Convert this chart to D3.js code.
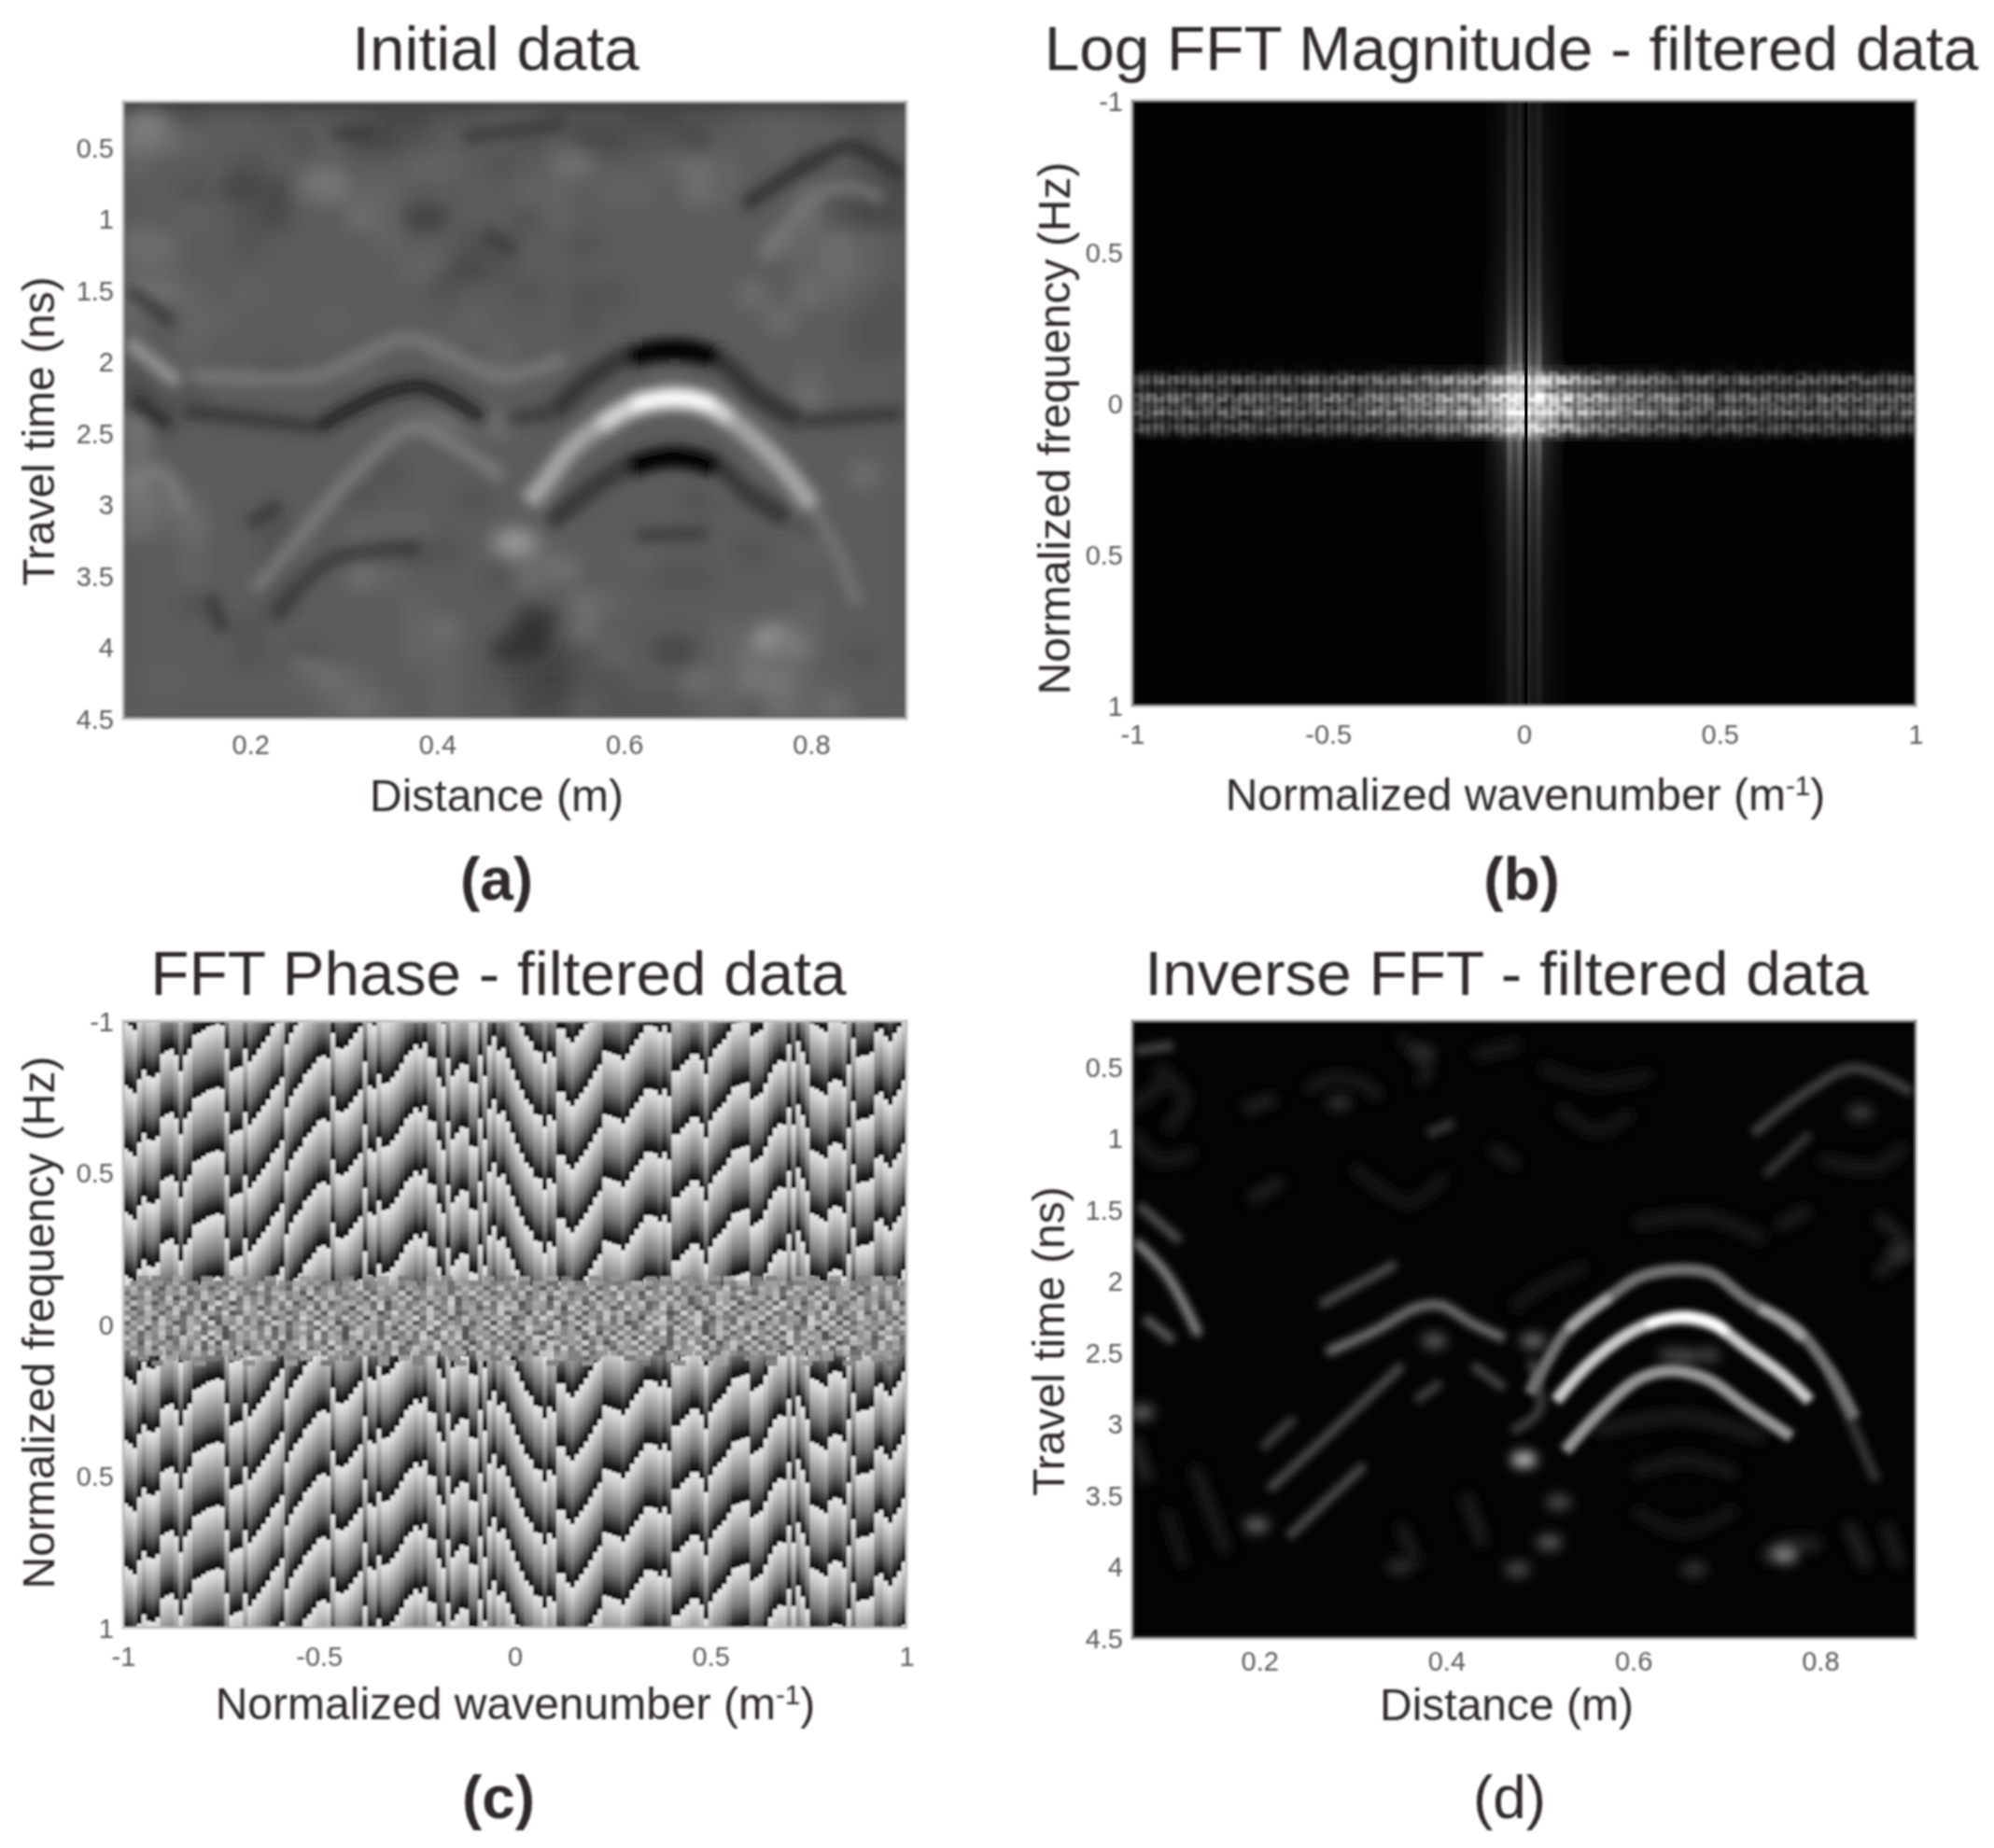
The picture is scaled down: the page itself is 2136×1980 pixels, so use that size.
<!DOCTYPE html>
<html><head><meta charset="utf-8">
<style>html,body{margin:0;background:#fff}svg{display:block}text{font-family:"Liberation Sans",Arial,sans-serif}</style>
<script src="https://cdn.jsdelivr.net/npm/d3@7"></script></head><body>
<script>
// ---------- axis content ----------
const distanceTicks=[0.2,0.4,0.6,0.8];
const timeTicks=[0.5,1,1.5,2,2.5,3,3.5,4,4.5];
const normTicks=[-1,-0.5,0,0.5,1];
const freqTickLabels=["-1","0.5","0","0.5","1"];
const titles=["Initial data","Log FFT Magnitude - filtered data","FFT Phase - filtered data","Inverse FFT - filtered data"];
const panelTags=["(a)","(b)","(c)","(d)"];

// ---------- (a) reflectors: [gray, [distance m, time ns]...] ----------
const aMain=[
 [166,[[.497,2.98],[.510,2.89],[.544,2.60],[.585,2.40],[.619,2.29],[.653,2.26],[.687,2.29],[.728,2.48],[.768,2.73],[.802,3.02]]],
 [215,[[.575,2.45],[.595,2.36],[.619,2.29],[.653,2.26],[.687,2.29],[.712,2.40]]],
 [255,[[.610,2.30],[.630,2.27],[.653,2.25],[.677,2.27],[.695,2.31]]],
 [52,[[.524,2.36],[.565,2.11],[.605,1.96],[.653,1.93],[.700,1.98],[.741,2.23],[.789,2.42]]],
 [0,[[.605,1.97],[.653,1.92],[.700,1.97]]],
 [0,[[.625,1.93],[.653,1.91],[.682,1.93]]],
 [56,[[.520,3.14],[.565,2.89],[.605,2.73],[.653,2.65],[.700,2.73],[.734,2.93],[.775,3.10]]],
 [0,[[.605,2.74],[.653,2.66],[.700,2.74]]],
 [0,[[.625,2.69],[.653,2.67],[.682,2.69]]]];
const aFaint=[
 [34,[[.076,2.27],[.113,2.44]]],[50,[[.130,2.35],[.200,2.40],[.273,2.46]]],
 [22,[[.273,2.46],[.313,2.31],[.347,2.21],[.381,2.17],[.408,2.23],[.449,2.40]]],
 [52,[[.476,2.40],[.524,2.36]]],[50,[[.789,2.42],[.897,2.36]]],
 [125,[[.137,2.10],[.273,2.10],[.313,1.98],[.368,1.84],[.422,1.98],[.470,2.10],[.537,1.98]]],
 [128,[[.205,3.60],[.259,3.18],[.313,2.77],[.374,2.46],[.422,2.60],[.470,2.81]]],
 [160,[[.069,1.86],[.123,2.15]]],[52,[[.069,1.49],[.117,1.73]]],
 [52,[[.198,3.14],[.232,3.00]]],[52,[[.225,3.80],[.286,3.39],[.381,3.31]]],
 [52,[[.157,3.64],[.171,3.89]]],[125,[[.069,2.89],[.103,2.77],[.130,3.06]]],
 [118,[[.802,3.02],[.829,3.35],[.850,3.70]]],[58,[[.612,3.22],[.690,3.20]]],
 [42,[[.728,.91],[.809,.57],[.843,.49],[.897,.70]]],[120,[[.748,1.28],[.809,.82],[.843,.78],[.877,.86]]],
 [58,[[.286,.41],[.334,.39]]],[56,[[.429,.43],[.537,.33]]],[58,[[.449,1.11],[.483,1.22]]],
 [112,[[.245,4.09],[.286,4.18]]],[58,[[.064,.19],[.902,.19]]]];
const aBlobs=[[.483,3.27,150],[.497,3.97,42],[.505,3.82,52],[.480,4.02,52],[.762,3.95,150],[.78,4.0,120],[.279,.74,118],[.09,.35,125],[.544,.62,110],
 [.388,.99,66],[.191,.78,70],[.095,1.2,108],[.39,1.3,100],[.53,3.45,112],[.653,4.02,70]];
// low-level mottling of (a), 8 = background
const aMottle=[
"7778878776677887776677888778",
"ba98887966788878667768898978",
"98887888889987888889a9887877",
"8878769a998888998998a9889766",
"88987688a988887988888888a766",
"a9887888898877887888888a9a98",
"9988888888966788888888889a98",
"ba98988888878878778888a8a987",
"98998889888898887888888a8877",
"8898888888898988888888888877",
"7888878898888988888988889888",
"677888888888888888888888a888",
"b7888888889a9a88888888889888",
"a888888888888888888888888888",
"b9888888878888888888899888a8",
"ba98888878887888888878888888",
"a9a8878899988889888888887888",
"8898878898778898889888789888",
"88988788a98887a8888778888888",
"8878878888988888a98888889888",
"88887888889a8888a88889999888",
"8888787888998866798889a98878",
"8988889a988987657788a9bb9888",
"88888889a98988668777898a9a88"];

// ---------- (d) reflectors ----------
const dMain=[
 [112,[[.489,2.79],[.530,2.34],[.571,2.13],[.612,1.96],[.680,1.94],[.721,2.13],[.775,2.34],[.81,2.63],[.837,2.96]]],
 [165,[[.530,2.34],[.552,2.22],[.575,2.11]]],[160,[[.735,2.19],[.760,2.28],[.782,2.40]]],
 [205,[[.517,2.84],[.551,2.59],[.592,2.38],[.626,2.28],[.656,2.26],[.687,2.31],[.721,2.47],[.762,2.67],[.789,2.84]]],
 [255,[[.615,2.31],[.626,2.28],[.656,2.25],[.687,2.30],[.700,2.36]]],
 [150,[[.527,3.19],[.564,2.92],[.605,2.69],[.639,2.63],[.680,2.69],[.721,2.88],[.769,3.09]]]];
const dFaint=[
 [115,[[.272,2.50],[.326,2.34],[.367,2.19],[.394,2.17],[.428,2.30],[.462,2.40]]],
 [75,[[.265,2.17],[.346,1.88]]],[72,[[.210,3.46],[.265,3.13],[.353,2.59]]],[68,[[.428,2.59],[.462,2.75]]],
 [60,[[.203,3.17],[.237,2.96]]],[72,[[.231,3.79],[.312,3.29]]],[62,[[.367,2.84],[.394,2.71]]],
 [135,[[.067,1.72],[.101,1.96],[.135,2.38]]],[80,[[.071,1.47],[.115,1.72]]],[90,[[.077,2.26],[.108,2.42]]],
 [68,[[.728,.97],[.789,.66],[.837,.51],[.898,.68]]],[52,[[.741,1.26],[.789,.97]]],[40,[[.754,1.62],[.789,1.50]]],
 [68,[[.067,.39],[.108,.35]]],[42,[[.183,.80],[.217,.72]]],[42,[[.19,1.43],[.224,1.30]]],[56,[[.38,.97],[.408,.89]]],
 [40,[[.448,1.07],[.476,1.19]]],[34,[[.43,.42],[.478,.34]]],[55,[[.81,2.63],[.86,3.40]]],[36,[[.10,.60],[.06,.80]]],
 [34,[[.25,.66],[.28,.58],[.31,.62],[.33,.72]]],[34,[[.35,.30],[.38,.50],[.37,.62]]],
 [36,[[.09,.50],[.12,.72],[.10,.95]]],[32,[[.065,.95],[.09,1.15],[.13,1.10]]],[28,[[.50,.50],[.56,.62],[.62,.55]]],
 [28,[[.52,.78],[.56,.95],[.60,.82]]],[32,[[.80,1.15],[.86,1.20],[.89,1.05]]],[42,[[.86,1.55],[.89,1.75],[.86,1.95]]],
 [28,[[.30,1.2],[.36,1.45],[.40,1.25]]],[34,[[.60,1.6],[.68,1.55],[.74,1.72]]],[28,[[.55,1.9],[.50,2.05],[.47,2.2]]],
 [34,[[.60,3.35],[.653,3.25],[.71,3.35]]],[38,[[.56,3.05],[.653,2.95],[.74,3.1]]],
 [48,[[.74,3.95],[.76,3.85],[.80,3.85]]],[46,[[.83,3.7],[.85,4.0]]],[40,[[.87,3.7],[.885,4.0]]],[38,[[.42,3.5],[.44,3.85]]],
 [32,[[.35,3.7],[.37,4.0]]],[36,[[.13,3.3],[.165,3.9]]],[28,[[.10,3.6],[.12,4.0]]],[48,[[.065,3.1],[.08,3.4]]],
 [62,[[.49,2.55],[.50,2.9],[.47,3.05]]],[30,[[.60,3.6],[.653,3.75],[.71,3.6]]]];
const dBlobs=[[.483,3.25,190],[.493,2.42,100],[.197,3.71,95],[.762,3.92,135],[.51,3.83,85],[.476,4.02,70],[.074,2.92,90],
 [.653,2.53,80],[.64,2.52,60],[.68,2.52,60],[.387,2.42,85],[.285,.75,45],[.375,.4,42],[.843,.82,58],[.885,1.8,46],[.35,4.0,46],[.665,4.02,50],[.52,3.55,70]];

// ---------- (b) magnitude spectrum ----------
const bStripLevels=[.10,.10,.15,.15,.25,.25,.3,.3,.85,.85,.6,.55,.9,.95,0,.95,.9,.55,.6,.85,.85,.3,.3,.25,.25,.15,.15,.10,.10];
const bStripProfile=[.22,.24,.26,.28,.3,.34,.4,.5,.65,.9,1,.9,.65,.5,.4,.34,.3,.28,.26,.24,.22];
const bRowLevels=[.06,.1,.25,.6,.65,.3,.3,.7,.75,.5,.55,.8,.45,.3,.55,.55,.3,.1];
const bColLevels=[.8,.78,.78,.8,.78,.78,.8,.82,.78,.8,.8,.8,.82,.84,.85,.88,.9,.95,.95,1,1.05,1.1,1.2,1.35,1.55,1.8,2.1,2.4,2.4,2.1,1.8,1.55,1.35,1.2,1.1,1.05,1,.95,.95,.9,.88,.85,.82,.82,.8,.8,.78,.8,.78,.78,.8,.78,.78,.8,.78];

// ---------- (c) wrapped phase: position of the phase front per wavenumber column, % of a cycle ----------
const phaseFront=[8,13,20,98,83,93,95,88,58,53,50,60,85,60,50,28,25,20,15,13,10,13,50,85,80,78,50,70,60,50,40,30,15,8,95,43,25,13,5,90,83,73,63,60,65,25,48,50,45,35,25,15,70,8,13,90,5,3,95,85,73,60,53,43,50,40,63,65,95,10,65,93,83,73,75,3,5,60,93,45,30,53,48,65,83,0,15,
30,38,53,55,73,55,63,18,18,33,40,30,20,10,98,85,75,53,55,58,60,68,58,45,35,25,13,13,15,23,13,25,85,85,75,68,58,58,68,90,63,50,43,35,23,10,8,5,3,30,25,20,5,88,75,68,70,43,70,38,55,75,10,13,18,23,3,98,0,10,75,33,63,60,60,55,23,18,30,38,25,15,0];
const phaseCycleHz=0.2085, phaseAtTop=-0.0123, phaseLowerShift=0.61;

// shared speckle read from the low-frequency band, 0-f brightness, '.' = no cell
const speckle=[
"..9.7..a...8..7.b...9....a.8...7..9.b..6...a.8.....9..7.a...b.6...8..9....7.a..8...9.b...6.7...a.8..9...7.b.8..",
".8a69.7b58.a97.c68.a7.96b.8a57.9b.68a.c79.6a8.5b97.a68.c7.9a5.8b6.a97.68c.a79.5b8.a6.97c.68a.b57.9a86.c7.8a96.7",
"9c6a83b7d59a48c7b69e5a83d7c49b6a8e57c9a4b86d9a57c8b49e6a7c83b5da97c48e6b9a57d8c6a49b7e58a6c9b47da85c79b6a4e8c79",
"5b8e47a9c36d8b5ea7496cb8a3e79d58b6c4a97e3b8d6a5c9e7b48a6d39c7ea58b4c96d7a3e8b5c69a47db8e63a9c5d7b4e86a9c37b8d5a",
"a47c95e28b6da39f5c7b48e6a92d7cb58a3e96c7d48ba6e395c8a7d4b69e28c7a5d3b8f6c49a7e5b38d6ca47e9b5d28a6c7e39b4d8a6c59",
"6d9a38c7e5b49fa26d8c5b7e39a6d48cb7a5e29d68c4b7f3a96e5d8c27ba4e69d38c7b5a9e46d8ca37b5e9d28a6c4f7b39e5d86ac7b49e2",
"c38e7a5d96b2f48c7ea39d5b86e4c7a92db5f38a6c7e49d5ab386ecd47a95b2e8c6da37f9b48e5c6a27d9e4b83c6fa5d79b2e48ca6d37e9",
"7a5cb49e36d8a7f25c9e6ba48d7c3e95a6db28f7c49ea5d36b8c7e4a92d6fb58c3a7e9d4b68ca25f7e39d6b4ac8e57d29b6fa4c7e38d5b6",
"e69b3d8a5c7f24b9e6a7d38c5fb49a6e7c2d85ba9f4e6c37d8a5b9e26c7fa48d3b96e5c7a2d8f4b6ce93a75db8e4c69a2f7d5b38ea6c94d",
"4b8d7ea35c96f2a8d6b47ec39a5f8d27b6ca4e95d38bf6a7c49e2d85bc6a7f39d4e8b6c25a7ed94b8f36ca5e7d29b6a84fc7e3d59b8a6c4",
"a7e39c6d5bf48a2e7c96d3b5ae84f6c27d9a5b3e8c6f49da27b5e8c63fa94d7b2ec58a6d39f7b4e6ca28d5e93b7c6fa48d2e7b59c6a3e8d",
"6c4a8e7b3d95fa26c8d7e4b39a6f5c82de7b49a6c5e38f7d2b9a4e6c8d53fb7a96e2c4d8b7a5f39e6c28db4a7e95c3f6d8a2b7e49c5da68",
"d95b7c36ea8f4d26b9c7a5e38d4f6ba29c7e5d38a6fb4c9e27d8a5b3c6fe47a9d28b6e5c3f7a94d6b8e2c5a7f39d4be68ca25d7e9b36fc4",
"7b3e96a5d8c4e2f7a69b5d38ce7a4f96b2d8c5ea37b9f4d6c28e5a7b49d3ec6a8f5b27d9e4c6a3b8f75d29ea6c48b3f7d5a9e26cb84d7a5",
"a86c4d97b5e3a8c6e29d7b4a6f58c3e9a7d2b6c48ea5f97b3d6c8e4a29b7d5f6c38ea4b96d7c25e8af4b69d3c7e5a82d6b9f4ce37a5d8b6",
"5d7b9.6a8.c7d4a.9b6.e58.a7c.6d9.4b8a.7e5.c69.a8b.5d7.9c6.a4e.8b7.d59.a6c.8e4.b7a.9d5.c86.a7b.4e9.d6a.8c5.7b9a6",
"..8...a.7...6..9....b..7.a...8.6....9..a.7....8...b.6...9....a.7..8....6.9...a....7.b...8..6.....a.9...7..8....",
"....7.....9......8.....a....6.......9....7.....8......a.....7....9.......6....8.....a......7....9.....8.....6..."];

// ---------- geometry of the page ----------
const W=2136,H=1980;
const P={a:{x:[132,971],y:[109,770]},b:{x:[1213,2052],y:[108,756]},c:{x:[132,971],y:[1094,1744]},d:{x:[1213,2052],y:[1094,1755]}};
const svg=d3.select("body").append("svg").attr("width",W).attr("height",H).attr("viewBox",`0 0 ${W} ${H}`);
const defs=svg.append("defs");
[["bText",.9],["bSoft",1.1],["bBand",1.7],["b4",4],["b6",6.5],["b3",3.2],["b9",9.5],["b20",20]].forEach(([id,s])=>{
  defs.append("filter").attr("id",id).attr("x","-20%").attr("y","-20%").attr("width","140%").attr("height","140%")
   .append("feGaussianBlur").attr("stdDeviation",s);});
const gray=v=>{const g=Math.max(0,Math.min(255,Math.round(v)));return `rgb(${g},${g},${g})`;};

function plot(key,bg){
  const p=P[key];
  defs.append("clipPath").attr("id","clip"+key).append("rect").attr("x",p.x[0]).attr("y",p.y[0]).attr("width",p.x[1]-p.x[0]).attr("height",p.y[1]-p.y[0]);
  const g=svg.append("g").attr("clip-path",`url(#clip${key})`);
  g.append("rect").attr("x",p.x[0]).attr("y",p.y[0]).attr("width",p.x[1]-p.x[0]).attr("height",p.y[1]-p.y[0]).attr("fill",bg);
  return g;
}
const txt=svg.append("g").attr("filter","url(#bText)");
function axes(key,x,y,xt,yt,ylab,xfy){
  const p=P[key];
  const ga=txt.append("g").attr("transform",`translate(0,${xfy})`).call(d3.axisBottom(x).tickValues(xt).tickSize(0).tickPadding(0).tickFormat(d=>String(d)));
  const gb=txt.append("g").attr("transform",`translate(${p.x[0]-10},0)`).call(d3.axisLeft(y).tickValues(yt).tickSize(0).tickPadding(0).tickFormat(ylab));
  [ga,gb].forEach(s=>{s.select(".domain").remove();s.selectAll("text").attr("fill","#5a5a5a").attr("font-size",29).attr("font-family","Liberation Sans");});
  ga.selectAll("text").attr("dy",0).attr("y",0);
  gb.selectAll("text").attr("dy",".35em");
}
function label(t,x,y,size,opt={}){
  const e=txt.append("text").attr("x",x).attr("y",y).attr("font-size",size).attr("text-anchor","middle").attr("fill",opt.fill||"#2e2a2a").attr("font-weight",opt.bold?"bold":null);
  if(opt.rot)e.attr("transform",`rotate(-90 ${x} ${y})`);
  if(opt.sup){e.append("tspan").text(t);e.append("tspan").attr("font-size",size*.62).attr("dy",-size*.34).text(opt.sup);e.append("tspan").attr("dy",size*.34).text(")");}
  else e.text(t);
}
function frame(key,c){const p=P[key];
  svg.append("rect").attr("x",p.x[0]).attr("y",p.y[0]).attr("width",p.x[1]-p.x[0]).attr("height",p.y[1]-p.y[0]).attr("fill","none").attr("stroke",c).attr("stroke-width",3).attr("filter","url(#bSoft)");}

function reflect(g,x,t,strokes,blobs,w,filt,r,blobFilt,op){
  const line=d3.line().x(d=>x(d[0])).y(d=>t(d[1])).curve(d3.curveCatmullRom);
  const h=g.append("g").attr("filter",`url(#${filt})`).attr("opacity",op||1);
  h.selectAll("path").data(strokes).join("path").attr("d",d=>line(d[1])).attr("fill","none").attr("stroke",d=>gray(d[0])).attr("stroke-width",w).attr("stroke-linecap","butt");
  if(blobs)g.append("g").attr("filter",`url(#${blobFilt})`).selectAll("ellipse").data(blobs).join("ellipse").attr("cx",d=>x(d[0])).attr("cy",d=>t(d[1])).attr("rx",r*1.25).attr("ry",r*.8).attr("fill",d=>gray(d[2]));
}
function mottle(g,grid,key,col){
  const xb=d3.scaleBand(d3.range(grid[0].length),P[key].x),yb=d3.scaleBand(d3.range(grid.length),P[key].y);
  const h=g.append("g").attr("filter","url(#b9)");
  grid.forEach((row,r)=>h.append("g").selectAll("rect").data([...row]).join("rect").attr("x",(d,i)=>xb(i)).attr("y",yb(r)).attr("width",xb.bandwidth()+1).attr("height",yb.bandwidth()+1).attr("fill",d=>col(parseInt(d,16))));
}

// ---------- (a) ----------
{
 const x=d3.scaleLinear([.064,.902],P.a.x),t=d3.scaleLinear([.18,4.5],P.a.y);
 const g=plot("a","#5b5b5b");
 mottle(g,aMottle,"a",v=>gray(91+(v-8)*9));
 reflect(g,x,t,aFaint,aBlobs,15,"b6",20,"b9",.82);
 reflect(g,x,t,aMain,null,21,"b6",0);
 axes("a",x,t,distanceTicks,timeTicks,d=>String(d),808);
 frame("a","#b9b9b9");
}
// ---------- (d) ----------
{
 const x=d3.scaleLinear([.064,.902],P.d.x),t=d3.scaleLinear([.18,4.5],P.d.y);
 const g=plot("d","#040404");
 reflect(g,x,t,dFaint.filter(d=>d[0]<=50),null,13,"b6",0,null,.8);
 reflect(g,x,t,dFaint.filter(d=>d[0]>50),dBlobs,10,"b4",11,"b6");
 reflect(g,x,t,dMain,null,13,"b3",0);
 axes("d",x,t,distanceTicks,timeTicks,d=>String(d),1790);
 frame("d","#8f8f8f");
}
// ---------- (b) ----------
{
 const x=d3.scaleLinear([-1,1],P.b.x),y=d3.scaleLinear([-1,1],P.b.y);
 const g=plot("b","#030303");
 g.append("ellipse").attr("cx",x(0)).attr("cy",y(0)).attr("rx",x(.4)-x(0)).attr("ry",y(.09)-y(0)).attr("fill","#fff").attr("fill-opacity",.14).attr("filter","url(#b20)");
 const cell=g.append("g").attr("filter","url(#bBand)");
 const grad=defs.append("linearGradient").attr("id","stripGrad").attr("x1",0).attr("x2",0).attr("y1",0).attr("y2",1);
 grad.selectAll("stop").data(bStripProfile).join("stop").attr("offset",(d,i)=>i/(bStripProfile.length-1)).attr("stop-color","#fff").attr("stop-opacity",d=>d*.5);
 const sb=d3.scaleBand(d3.range(bStripLevels.length),[x(-.1),x(.1)]);
 const rowsB=d3.scaleBand(d3.range(speckle.length),[y(-.135),y(.125)]);
 const colsB=d3.scaleBand(d3.range(speckle[0].length),P.b.x);
 speckle.forEach((row,r)=>{
  const rr=speckle.length-1-r;
  const cells=[...row.slice(0,speckle[0].length)].map((c,i)=>({i,v:c==="."?0:parseInt(c,16)/15,l:bColLevels[Math.floor(i/2)]||.8}));
  cell.append("g").selectAll("rect").data(cells).join("rect").attr("x",d=>colsB(d.i)).attr("y",rowsB(rr)).attr("width",colsB.bandwidth()*1.5).attr("height",rowsB.bandwidth()+.5)
   .attr("fill","#fff").attr("fill-opacity",d=>Math.min(1,(0.2+d.v*.8)*bRowLevels[rr]*d.l*.62));
 });
 cell.selectAll("rect.s").data(bStripLevels).join("rect").attr("class","s").attr("x",(d,i)=>sb(i)).attr("width",sb.bandwidth()+.5).attr("y",P.b.y[0]).attr("height",P.b.y[1]-P.b.y[0]).attr("fill","url(#stripGrad)").attr("opacity",d=>d);
 g.append("rect").attr("x",x(0.002)).attr("width",3).attr("y",P.b.y[0]).attr("height",P.b.y[1]-P.b.y[0]).attr("fill","#020202");
 axes("b",x,y,normTicks,normTicks,(d,i)=>freqTickLabels[i],797);
 frame("b","#9c9c9c");
}
// ---------- (c) ----------
{
 const x=d3.scaleLinear([-1,1],P.c.x),y=d3.scaleLinear([-1,1],P.c.y);
 const g=plot("c","#777");
 const grad=defs.append("linearGradient").attr("id","phaseGrad").attr("x1",0).attr("x2",0).attr("y1",0).attr("y2",1);
 [[0,"#e8e8e8"],[.15,"#d2d2d2"],[.62,"#747474"],[.9,"#1c1c1c"],[1,"#070707"]].forEach(s=>grad.append("stop").attr("offset",s[0]).attr("stop-color",s[1]));
 const col=d3.scaleBand(d3.range(phaseFront.length),P.c.x);
 const waves=d3.range(-1,11);
 const wrap=g.append("g").attr("filter","url(#bSoft)");
 [[-1,0,0],[0,1,phaseLowerShift]].forEach(([f0,f1,shift],hi)=>{
  const cid="phaseHalf"+hi;
  defs.append("clipPath").attr("id",cid).append("rect").attr("x",P.c.x[0]).attr("width",P.c.x[1]-P.c.x[0]).attr("y",y(f0)).attr("height",y(f1)-y(f0));
  const half=wrap.append("g").attr("clip-path",`url(#${cid})`);
  const cols=half.selectAll("g").data(phaseFront).join("g");
  cols.selectAll("rect").data((d,i)=>waves.map(n=>({i,f:-1+phaseAtTop+(d/100+shift+n)*phaseCycleHz}))).join("rect")
   .attr("x",d=>col(d.i)).attr("width",col.bandwidth()+.6)
   .attr("y",d=>y(d.f)).attr("height",y(-1+phaseCycleHz)-y(-1)+.5).attr("fill","url(#phaseGrad)");
 });
 const rowsC=d3.scaleBand(d3.range(speckle.length),[y(-.16),y(.135)]);
 const colsC=d3.scaleBand(d3.range(speckle[0].length),P.c.x);
 const nz=g.append("g").attr("filter","url(#bText)");
 speckle.forEach((row,r)=>{
  const cells=[...row.slice(0,speckle[0].length)].map((c,i)=>({i,c})).filter(d=>d.c!==".");
  nz.append("g").selectAll("rect").data(cells).join("rect").attr("x",d=>colsC(d.i)).attr("y",rowsC(r)).attr("width",colsC.bandwidth()*1.7).attr("height",rowsC.bandwidth()+.5)
   .attr("fill",d=>gray(62+parseInt(d.c,16)/15*145));
 });
 axes("c",x,y,normTicks,normTicks,(d,i)=>freqTickLabels[i],1785);
 frame("c","#c4c4c4");
}
// ---------- text ----------
const tSize=67.5,lSize=48,tagSize=64;
label(titles[0],531,75,tSize);label(titles[1],1619,75,tSize);label(titles[2],534,1066,tSize);label(titles[3],1614,1066,tSize);
label("Distance (m)",532,869,lSize);label("Distance (m)",1614,1843,lSize);
label("Normalized wavenumber (m",1634,868,lSize,{sup:"-1"});label("Normalized wavenumber (m",552,1842,lSize,{sup:"-1"});
label("Travel time (ns)",58,462,lSize,{rot:true});label("Travel time (ns)",1140,1437,lSize,{rot:true});
label("Normalized frequency (Hz)",1146,459,lSize,{rot:true});label("Normalized frequency (Hz)",58,1417,lSize,{rot:true});
label(panelTags[0],532,964,tagSize,{bold:true});label(panelTags[1],1630,964,tagSize,{bold:true});label(panelTags[2],534,1948,tagSize,{bold:true});label(panelTags[3],1617,1948,tagSize);
</script></body></html>
